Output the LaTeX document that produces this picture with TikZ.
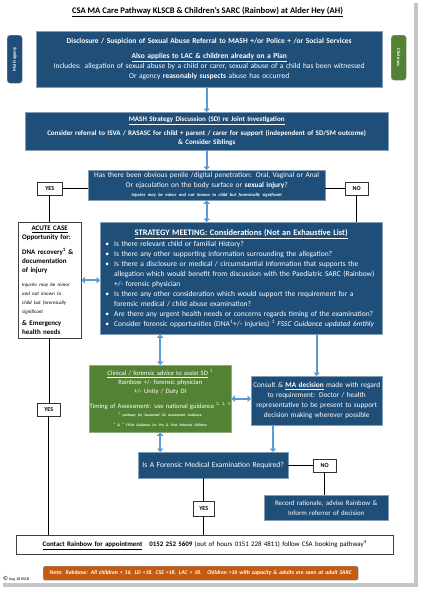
\documentclass[tikz,border=0pt]{standalone}
\usepackage{fontspec}
\setmainfont{Carlito}
\usepackage{enumitem}
\usetikzlibrary{arrows.meta}
\tikzset{
    boxsize/.style 2 args={text width=#1pt, minimum height=#2pt},   % Size of a box in px
    flow/.style={draw=arrowblue, line width=2pt, -{Triangle[length=3.5pt,width=6.5pt]}},
    flowboth/.style={draw=arrowblue, line width=2pt,
        {Triangle[length=3.5pt,width=6.5pt]}-{Triangle[length=3.5pt,width=6.5pt]}},
    link/.style={draw=black, line width=0.7pt}
}

\begin{document}
\begin{tikzpicture}[x=1pt,y=-1pt]
  % Colors
    \definecolor{pathblue}{RGB}{31,78,121}
    \definecolor{arrowblue}{RGB}{91,155,213}
    \definecolor{clingreen}{RGB}{84,130,53}
    \definecolor{noteorange}{RGB}{197,90,17}
    \colorlet{edgeblue}{pathblue!55!white}

  % Styles
    \tikzstyle{bluebox}=[draw=edgeblue, fill=pathblue, text=white, anchor=north west,
        inner xsep=0pt, inner ysep=0pt, align=center, font=\fontsize{7.5}{10}\selectfont]
    \tikzstyle{whitebox}=[draw=black!75, fill=white, anchor=north west,
        inner xsep=0pt, inner ysep=0pt, align=center, font=\fontsize{6.9}{10}\selectfont]
    \tikzstyle{answer}=[draw=black!80, fill=white, anchor=north west, inner sep=0pt,
        minimum height=13pt, font=\bfseries\fontsize{6}{6}\selectfont]
    \tikzstyle{tab}=[draw=edgeblue, rounded corners=3pt, text=white, anchor=north west,
        inner sep=0pt, minimum width=15pt, font=\bfseries\fontsize{4.5}{5}\selectfont]

  % The page
    \fill[white] (0,0) rectangle (422,590);
    \fill[gray!45] (3,3) rectangle (418,587);
    \fill[white] (0,0) rectangle (414,583);
    \useasboundingbox (0,0) rectangle (422,590);

  % The graphic
    \node[font=\bfseries\fontsize{8.6}{10}\selectfont, inner sep=0pt] (title) at (207.5,12)
      {\underline{CSA MA Care Pathway KLSCB \& Children’s SARC (Rainbow) at Alder Hey (AH)}};

    \node[tab, fill=pathblue, minimum height=48pt] (multi) at (7,35) {\rotatebox{90}{Multi-agency}};
    \node[tab, fill=clingreen, draw=clingreen!70!white, minimum height=45pt] (clin) at (391,35)
      {\rotatebox{-90}{Clinicians}};

    \node[bluebox, boxsize={346}{56}] (disc) at (36,31) {%
      \textbf{Disclosure / Suspicion of Sexual Abuse Referral to MASH +/or Police + /or Social Services}\\[5pt]
      \textbf{\underline{Also applies to LAC \& children already on a Plan}}\\
      Includes: allegation of sexual abuse by a child or carer, sexual abuse of a child has been witnessed\\
      Or agency \textbf{reasonably suspects} abuse has occurred};

    \node[bluebox, boxsize={363}{38}, font=\bfseries\fontsize{7}{9}\selectfont] (mash) at (25,112) {%
      \underline{MASH Strategy Discussion (SD) re Joint Investigation}\\[5pt]
      Consider referral to ISVA / RASASC for child + parent / carer for support (independent of SD/SM outcome)\\
      \& Consider Siblings};

    \node[bluebox, boxsize={237}{30}, font=\fontsize{7.4}{9.5}\selectfont] (pen) at (88,170) {%
      Has there been obvious penile /digital penetration: Oral, Vaginal or Anal\\
      Or ejaculation on the body surface or \textbf{sexual injury}?\\
      {\bfseries\itshape\fontsize{4.5}{5}\selectfont Injuries may be minor and not known to child but forensically significant}};

    \node[answer, minimum width=25pt] (yes1) at (37,182) {YES};
    \node[answer, minimum width=23pt] (no1) at (345,182) {NO};

    \node[whitebox, boxsize={55}{116}, inner xsep=4pt, align=left,
      font=\bfseries\fontsize{7}{9.3}\selectfont] (acute) at (18,222) {%
      {\centering\underline{ACUTE CASE}\par}
      Opportunity for:\\[5pt]
      DNA recovery\textsuperscript{1} \&\\
      documentation\\
      of injury\\[5pt]
      {\mdseries\itshape\fontsize{5}{9}\selectfont Injuries may be minor\\ and not known to\\ child but forensically\\ significant}\\[2pt]
      \& Emergency\\
      health needs};

    \node[bluebox, boxsize={282}{112}, align=left] (strat) at (100,222) {%
      {\centering\bfseries\fontsize{8.4}{10}\selectfont\underline{STRATEGY MEETING: Considerations (Not an Exhaustive List)}\par}
      \begin{itemize}[label=\textbullet, leftmargin=14pt, labelsep=5pt, nosep, topsep=1pt]
        \item Is there relevant child or familial History?
        \item Is there any other supporting information surrounding the allegation?
        \item Is there a disclosure or medical / circumstantial information that supports the\\
          allegation which would benefit from discussion with the Paediatric SARC (Rainbow)\\
          +/- forensic physician
        \item Is there any other consideration which would support the requirement for a\\
          forensic medical / child abuse examination?
        \item Are there any urgent health needs or concerns regards timing of the examination?
        \item Consider forensic opportunities (DNA\textsuperscript{1}+/- injuries) \textsuperscript{1}
          \textit{FSSC Guidance updated 6mthly}
      \end{itemize}};

    \node[bluebox, fill=clingreen, draw=clingreen!65!white, boxsize={142}{67},
      font=\fontsize{6.6}{9}\selectfont] (advice) at (89,365) {%
      \underline{Clinical / forensic advice to assist SD} \textsuperscript{1}\\
      Rainbow +/- forensic physician\\
      +/- Unity / Duty DI\\[6pt]
      Timing of Assessment: use national guidance \textsuperscript{2, 3, 4}\\[-1pt]
      {\bfseries\itshape\fontsize{3.6}{4}\selectfont \textsuperscript{2} pathway for Suspected CA Assessment Guidance}\\[1pt]
      {\bfseries\itshape\fontsize{3.6}{4}\selectfont \textsuperscript{3} \& \textsuperscript{4} FFLM Guidance for Pre \& Post Pubertal Children}};

    \node[bluebox, boxsize={131}{49}, font=\fontsize{7.3}{10}\selectfont] (consult) at (251,376) {%
      Consult \& \textbf{\underline{MA decision}} made with regard\\
      to requirement: Doctor / health\\
      representative to be present to support\\
      decision making wherever possible};

    \node[bluebox, boxsize={150}{26}, font=\fontsize{7.6}{10}\selectfont] (exam) at (138,452)
      {Is A Forensic Medical Examination Required?};
    \node[answer, minimum width=23pt] (no2) at (313,459) {NO};
    \node[bluebox, boxsize={124}{25}, font=\fontsize{6.9}{10}\selectfont] (record) at (264,495) {%
      Record rationale, advise Rainbow \&\\ Inform referrer of decision};
    \node[answer, minimum width=21pt, minimum height=15pt] (yes2) at (193,501) {YES};
    \node[answer, minimum width=23pt] (yes3) at (37,403) {YES};

    \node[whitebox, boxsize={377}{19}] (contact) at (16,535) {%
      \textbf{\underline{Contact Rainbow for appointment}}\quad\textbf{0152 252 5609} (out of hours 0151 228 4811)
      follow CSA booking pathway\textsuperscript{4}};

    \node[bluebox, fill=noteorange, rounded corners=2pt, boxsize={315}{14},
      font=\bfseries\itshape\fontsize{5.7}{6}\selectfont] (note) at (43,566) {%
      Note: Rainbow: All children < 16. LD <18. CSE <18. LAC < 18.\quad Children >16 with capacity \& adults are seen at adult SARC};

    \node[anchor=south west, inner sep=0pt, font=\fontsize{4}{4}\selectfont] (copy) at (3,581)
      {{\fontsize{6}{6}\selectfont\textcopyright}\,Aug 18 KSCB};

  % Connectors
    \draw[flow] (mash.north |- disc.south) -- (mash.north);
    \draw[flow] (pen.north |- mash.south) -- (pen.north);
    \draw[flowboth] (pen.south) -- (pen.south |- strat.north);
    \draw[link] (yes1.east) -- (yes1.east -| pen.west);
    \draw[link] (yes1.south) -- (yes1.south |- acute.north);
    \draw[link] (no1.west) -- (no1.west -| pen.east);
    \draw[link] (no1.south) -- (no1.south |- strat.north);
    \draw[flowboth] (acute.east) -- (acute.east -| strat.west);
    \draw[flowboth] (advice.north |- strat.south) -- (advice.north);
    \draw[flow] (consult.north |- strat.south) -- (consult.north);
    \draw[flowboth] (advice.east) -- (advice.east -| consult.west);
    \draw[flowboth] (advice.south) -- (advice.south |- exam.north);
    \coordinate (cdrop) at ([xshift=22pt]consult.south west);
    \draw[flow] (cdrop) -- (cdrop |- exam.north);
    \draw[link] (no2.west) -- (no2.west -| exam.east);
    \draw[link] (no2.south) -- (no2.south |- record.north);
    \draw[link] (yes2.north |- exam.south) -- (yes2.north);
    \draw[link] (yes2.south) -- (yes2.south |- contact.north);
    \draw[link] (acute.south) -- (acute.south |- yes3.north);
    \draw[link] (yes3.south) -- (yes3.south |- contact.north);
\end{tikzpicture}
\end{document}
